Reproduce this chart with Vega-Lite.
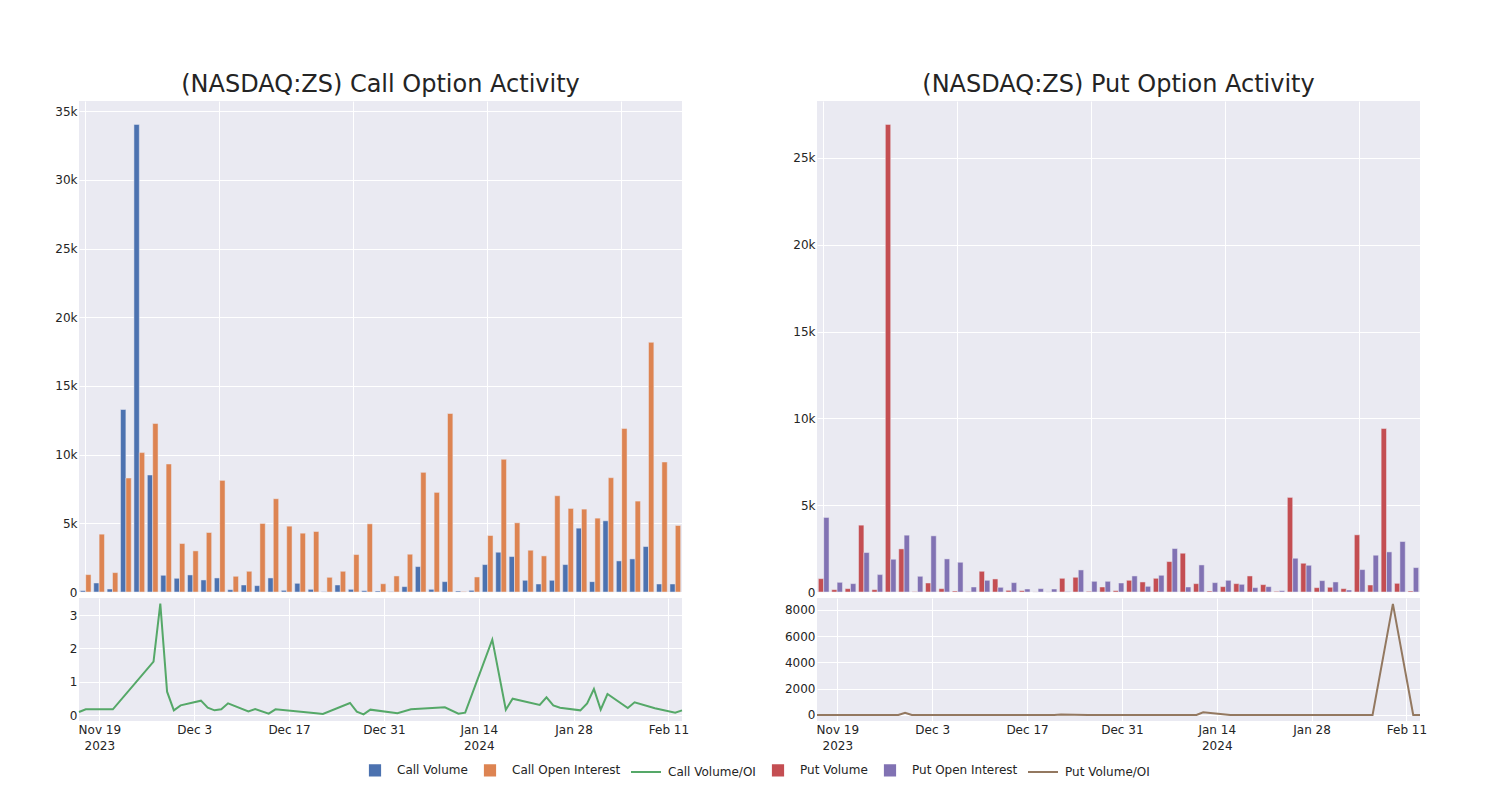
{
  "$schema": "https://vega.github.io/schema/vega-lite/v6.json",
  "background": "white",
  "padding": {"left": 54, "top": 73, "right": 20, "bottom": 10},
  "spacing": 95,
  "datasets": {
    "bars": [
      {"date": "2023-11-16", "Call Volume": 100, "Call Open Interest": 1265, "Put Volume": 770, "Put Open Interest": 4293},
      {"date": "2023-11-17", "Call Volume": 657, "Call Open Interest": 4210, "Put Volume": 135, "Put Open Interest": 558},
      {"date": "2023-11-21", "Call Volume": 219, "Call Open Interest": 1411, "Put Volume": 193, "Put Open Interest": 481},
      {"date": "2023-11-27", "Call Volume": 13284, "Call Open Interest": 8297, "Put Volume": 3850, "Put Open Interest": 2272},
      {"date": "2023-11-28", "Call Volume": 34039, "Call Open Interest": 10146, "Put Volume": 135, "Put Open Interest": 1001},
      {"date": "2023-11-29", "Call Volume": 8516, "Call Open Interest": 12263, "Put Volume": 26931, "Put Open Interest": 1887},
      {"date": "2023-11-30", "Call Volume": 1217, "Call Open Interest": 9319, "Put Volume": 2483, "Put Open Interest": 3273},
      {"date": "2023-12-01", "Call Volume": 998, "Call Open Interest": 3528, "Put Volume": 20, "Put Open Interest": 905},
      {"date": "2023-12-04", "Call Volume": 1241, "Call Open Interest": 2993, "Put Volume": 520, "Put Open Interest": 3234},
      {"date": "2023-12-05", "Call Volume": 876, "Call Open Interest": 4331, "Put Volume": 193, "Put Open Interest": 1906},
      {"date": "2023-12-06", "Call Volume": 1022, "Call Open Interest": 8126, "Put Volume": 58, "Put Open Interest": 1713},
      {"date": "2023-12-07", "Call Volume": 170, "Call Open Interest": 1144, "Put Volume": 20, "Put Open Interest": 289},
      {"date": "2023-12-08", "Call Volume": 511, "Call Open Interest": 1509, "Put Volume": 1194, "Put Open Interest": 674},
      {"date": "2023-12-11", "Call Volume": 462, "Call Open Interest": 4988, "Put Volume": 751, "Put Open Interest": 270},
      {"date": "2023-12-12", "Call Volume": 1022, "Call Open Interest": 6788, "Put Volume": 96, "Put Open Interest": 539},
      {"date": "2023-12-14", "Call Volume": 122, "Call Open Interest": 4793, "Put Volume": 77, "Put Open Interest": 173},
      {"date": "2023-12-15", "Call Volume": 633, "Call Open Interest": 4282, "Put Volume": 5, "Put Open Interest": 193},
      {"date": "2023-12-21", "Call Volume": 195, "Call Open Interest": 4404, "Put Volume": 5, "Put Open Interest": 173},
      {"date": "2023-12-22", "Call Volume": 20, "Call Open Interest": 1070, "Put Volume": 789, "Put Open Interest": 20},
      {"date": "2023-12-26", "Call Volume": 511, "Call Open Interest": 1509, "Put Volume": 847, "Put Open Interest": 1270},
      {"date": "2023-12-27", "Call Volume": 195, "Call Open Interest": 2725, "Put Volume": 38, "Put Open Interest": 616},
      {"date": "2023-12-28", "Call Volume": 97, "Call Open Interest": 4963, "Put Volume": 289, "Put Open Interest": 616},
      {"date": "2023-12-29", "Call Volume": 73, "Call Open Interest": 600, "Put Volume": 77, "Put Open Interest": 520},
      {"date": "2024-01-02", "Call Volume": 20, "Call Open Interest": 1168, "Put Volume": 674, "Put Open Interest": 924},
      {"date": "2024-01-04", "Call Volume": 389, "Call Open Interest": 2750, "Put Volume": 578, "Put Open Interest": 327},
      {"date": "2024-01-09", "Call Volume": 1849, "Call Open Interest": 8711, "Put Volume": 789, "Put Open Interest": 963},
      {"date": "2024-01-11", "Call Volume": 195, "Call Open Interest": 7251, "Put Volume": 1752, "Put Open Interest": 2503},
      {"date": "2024-01-12", "Call Volume": 754, "Call Open Interest": 12993, "Put Volume": 2233, "Put Open Interest": 289},
      {"date": "2024-01-16", "Call Volume": 73, "Call Open Interest": 32, "Put Volume": 481, "Put Open Interest": 1559},
      {"date": "2024-01-18", "Call Volume": 122, "Call Open Interest": 1095, "Put Volume": 58, "Put Open Interest": 539},
      {"date": "2024-01-19", "Call Volume": 1995, "Call Open Interest": 4112, "Put Volume": 308, "Put Open Interest": 674},
      {"date": "2024-01-23", "Call Volume": 2895, "Call Open Interest": 9659, "Put Volume": 481, "Put Open Interest": 443},
      {"date": "2024-01-24", "Call Volume": 2579, "Call Open Interest": 5036, "Put Volume": 924, "Put Open Interest": 250},
      {"date": "2024-01-25", "Call Volume": 852, "Call Open Interest": 3041, "Put Volume": 424, "Put Open Interest": 308},
      {"date": "2024-01-26", "Call Volume": 584, "Call Open Interest": 2628, "Put Volume": 38, "Put Open Interest": 77},
      {"date": "2024-01-29", "Call Volume": 852, "Call Open Interest": 7007, "Put Volume": 5448, "Put Open Interest": 1944},
      {"date": "2024-01-30", "Call Volume": 1995, "Call Open Interest": 6083, "Put Volume": 1656, "Put Open Interest": 1540},
      {"date": "2024-01-31", "Call Volume": 4647, "Call Open Interest": 6034, "Put Volume": 250, "Put Open Interest": 655},
      {"date": "2024-02-01", "Call Volume": 754, "Call Open Interest": 5377, "Put Volume": 270, "Put Open Interest": 578},
      {"date": "2024-02-02", "Call Volume": 5182, "Call Open Interest": 8321, "Put Volume": 193, "Put Open Interest": 116},
      {"date": "2024-02-05", "Call Volume": 2263, "Call Open Interest": 11898, "Put Volume": 3292, "Put Open Interest": 1290},
      {"date": "2024-02-06", "Call Volume": 2409, "Call Open Interest": 6618, "Put Volume": 404, "Put Open Interest": 2118},
      {"date": "2024-02-09", "Call Volume": 3309, "Call Open Interest": 18175, "Put Volume": 9413, "Put Open Interest": 2310},
      {"date": "2024-02-12", "Call Volume": 584, "Call Open Interest": 9465, "Put Volume": 500, "Put Open Interest": 2907},
      {"date": "2024-02-13", "Call Volume": 584, "Call Open Interest": 4842, "Put Volume": 58, "Put Open Interest": 1405}
    ],
    "lines": [
      {"date": "2023-11-16T00:00:00", "call_ratio": 0.09, "put_ratio": 0.18},
      {"date": "2023-11-17T00:00:00", "call_ratio": 0.17, "put_ratio": 0.24},
      {"date": "2023-11-21T00:00:00", "call_ratio": 0.17, "put_ratio": 0.4},
      {"date": "2023-11-27T00:00:00", "call_ratio": 1.6, "put_ratio": 1.7},
      {"date": "2023-11-28T00:00:00", "call_ratio": 3.34, "put_ratio": 0.13},
      {"date": "2023-11-29T00:00:00", "call_ratio": 0.7, "put_ratio": 170},
      {"date": "2023-11-30T00:00:00", "call_ratio": 0.14, "put_ratio": 0.76},
      {"date": "2023-12-01T00:00:00", "call_ratio": 0.29, "put_ratio": 0.02},
      {"date": "2023-12-04T00:00:00", "call_ratio": 0.43, "put_ratio": 0.16},
      {"date": "2023-12-05T00:00:00", "call_ratio": 0.22, "put_ratio": 0.1},
      {"date": "2023-12-06T00:00:00", "call_ratio": 0.14, "put_ratio": 0.03},
      {"date": "2023-12-07T00:00:00", "call_ratio": 0.17, "put_ratio": 0.07},
      {"date": "2023-12-08T00:00:00", "call_ratio": 0.35, "put_ratio": 1.77},
      {"date": "2023-12-11T00:00:00", "call_ratio": 0.11, "put_ratio": 2.78},
      {"date": "2023-12-12T00:00:00", "call_ratio": 0.18, "put_ratio": 0.18},
      {"date": "2023-12-14T00:00:00", "call_ratio": 0.04, "put_ratio": 0.45},
      {"date": "2023-12-15T00:00:00", "call_ratio": 0.17, "put_ratio": 0.03},
      {"date": "2023-12-21T00:00:00", "call_ratio": 0.05, "put_ratio": 0.03},
      {"date": "2023-12-22T00:00:00", "call_ratio": 0.03, "put_ratio": 39},
      {"date": "2023-12-26T00:00:00", "call_ratio": 0.36, "put_ratio": 0.67},
      {"date": "2023-12-27T00:00:00", "call_ratio": 0.1, "put_ratio": 0.06},
      {"date": "2023-12-28T00:00:00", "call_ratio": 0.02, "put_ratio": 0.47},
      {"date": "2023-12-29T00:00:00", "call_ratio": 0.16, "put_ratio": 0.15},
      {"date": "2024-01-02T00:00:00", "call_ratio": 0.05, "put_ratio": 0.73},
      {"date": "2024-01-04T00:00:00", "call_ratio": 0.17, "put_ratio": 1.77},
      {"date": "2024-01-09T00:00:00", "call_ratio": 0.23, "put_ratio": 0.82},
      {"date": "2024-01-11T00:00:00", "call_ratio": 0.04, "put_ratio": 0.7},
      {"date": "2024-01-12T00:00:00", "call_ratio": 0.07, "put_ratio": 200},
      {"date": "2024-01-16T00:00:00", "call_ratio": 2.26, "put_ratio": 0.31},
      {"date": "2024-01-18T00:00:00", "call_ratio": 0.16, "put_ratio": 0.11},
      {"date": "2024-01-19T00:00:00", "call_ratio": 0.49, "put_ratio": 0.46},
      {"date": "2024-01-23T00:00:00", "call_ratio": 0.3, "put_ratio": 1.09},
      {"date": "2024-01-24T00:00:00", "call_ratio": 0.53, "put_ratio": 3.7},
      {"date": "2024-01-25T00:00:00", "call_ratio": 0.29, "put_ratio": 1.38},
      {"date": "2024-01-26T00:00:00", "call_ratio": 0.22, "put_ratio": 0.49},
      {"date": "2024-01-29T00:00:00", "call_ratio": 0.14, "put_ratio": 2.8},
      {"date": "2024-01-30T00:00:00", "call_ratio": 0.35, "put_ratio": 1.08},
      {"date": "2024-01-31T00:00:00", "call_ratio": 0.78, "put_ratio": 0.38},
      {"date": "2024-02-01T00:00:00", "call_ratio": 0.16, "put_ratio": 0.47},
      {"date": "2024-02-02T00:00:00", "call_ratio": 0.63, "put_ratio": 1.66},
      {"date": "2024-02-05T00:00:00", "call_ratio": 0.21, "put_ratio": 2.55},
      {"date": "2024-02-06T00:00:00", "call_ratio": 0.38, "put_ratio": 0.19},
      {"date": "2024-02-09T00:00:00", "call_ratio": 0.2, "put_ratio": 8450},
      {"date": "2024-02-12T00:00:00", "call_ratio": 0.07, "put_ratio": 0.17},
      {"date": "2024-02-13T00:00:00", "call_ratio": 0.14, "put_ratio": 0.04}
    ]
  },
  "hconcat": [
    {
      "bounds": "flush",
      "spacing": 6,
      "vconcat": [
        {
          "width": 603,
          "height": 491,
          "title": {"text": "(NASDAQ:ZS) Call Option Activity", "anchor": "middle", "frame": "group", "baseline": "alphabetic", "offset": -15},
          "data": {"name": "bars"},
          "transform": [{"fold": ["Call Volume", "Call Open Interest"], "as": ["series", "value"]}],
          "mark": {"type": "bar", "stroke": "#EAEAF2", "strokeWidth": 0.5},
          "encoding": {
            "x": {"field": "date", "type": "ordinal", "scale": {"paddingInner": 0.2, "paddingOuter": 0.1},
                  "axis": {"labels": false, "ticks": false, "domain": false, "grid": true, "bandPosition": 0.5, "title": null,
                           "values": ["2023-11-16", "2023-12-06", "2023-12-27", "2024-01-19", "2024-02-05"]}},
            "xOffset": {"field": "series", "type": "nominal", "sort": ["Call Volume", "Call Open Interest"], "scale": {"paddingInner": 0, "paddingOuter": 0}},
            "y": {"field": "value", "type": "quantitative", "scale": {"domain": [0, 35741], "nice": false},
                  "axis": {"values": [0, 5000, 10000, 15000, 20000, 25000, 30000, 35000], "labelExpr": "datum.value == 0 ? '0' : (datum.value / 1000) + 'k'", "title": null, "labelPadding": 2}},
            "color": {
              "field": "series", "type": "nominal",
              "scale": {"domain": ["Call Volume", "Call Open Interest", "Call Volume/OI", "Put Volume", "Put Open Interest", "Put Volume/OI"],
                        "range": ["#4C72B0", "#DD8452", "#55A868", "#C44E52", "#8172B3", "#937860"]},
              "legend": {
                "orient": "none", "legendX": 280, "legendY": 653, "direction": "horizontal", "title": null,
                "symbolType": "square", "symbolSize": 900, "symbolStrokeWidth": 2, "labelOffset": 6, "columnPadding": 6,
                "labelFont": "DejaVu Sans", "labelFontSize": 12, "labelColor": "#242424",
                "encode": {"symbols": {"update": {
                  "shape": {"signal": "indexof(datum.value, '/OI') >= 0 ? 'M-1,0H1' : 'M-0.34,-0.34H0.34V0.34H-0.34Z'"},
                  "fill": {"signal": "indexof(datum.value, '/OI') >= 0 ? 'transparent' : scale('color', datum.value)"},
                  "stroke": {"signal": "scale('color', datum.value)"}
                }}}
              }
            }
          }
        },
        {
          "width": 603,
          "height": 123,
          "data": {"name": "lines"},
          "mark": {"type": "line", "strokeWidth": 2},
          "encoding": {
            "x": {"field": "date", "type": "temporal",
                  "scale": {"domain": [{"year": 2023, "month": 11, "date": 16}, {"year": 2024, "month": 2, "date": 13}], "nice": false},
                  "axis": {"title": null, "grid": true, "labelFlush": false, "labelPadding": 3, "labelLineHeight": 16,
                           "values": [{"year": 2023, "month": 11, "date": 19}, {"year": 2023, "month": 12, "date": 3}, {"year": 2023, "month": 12, "date": 17}, {"year": 2023, "month": 12, "date": 31}, {"year": 2024, "month": 1, "date": 14}, {"year": 2024, "month": 1, "date": 28}, {"year": 2024, "month": 2, "date": 11}],
                           "labelExpr": "[timeFormat(datum.value, '%b') + ' ' + date(datum.value), (month(datum.value) == 10 && date(datum.value) == 19) ? '2023' : ((month(datum.value) == 0 && date(datum.value) == 14) ? '2024' : '')]"}},
            "y": {"field": "call_ratio", "type": "quantitative", "scale": {"domain": [-0.18, 3.51], "nice": false, "zero": false},
                  "axis": {"values": [0, 1, 2, 3], "format": "d", "title": null, "labelPadding": 2}},
            "color": {
              "datum": "Call Volume/OI", "type": "nominal",
              "legend": {
                "orient": "none", "legendX": 280, "legendY": 653, "direction": "horizontal", "title": null,
                "symbolType": "square", "symbolSize": 900, "symbolStrokeWidth": 2, "labelOffset": 6, "columnPadding": 6,
                "labelFont": "DejaVu Sans", "labelFontSize": 12, "labelColor": "#242424",
                "encode": {"symbols": {"update": {
                  "shape": {"signal": "indexof(datum.value, '/OI') >= 0 ? 'M-1,0H1' : 'M-0.34,-0.34H0.34V0.34H-0.34Z'"},
                  "fill": {"signal": "indexof(datum.value, '/OI') >= 0 ? 'transparent' : scale('color', datum.value)"},
                  "stroke": {"signal": "scale('color', datum.value)"}
                }}}
              }
            }
          }
        }
      ]
    },
    {
      "bounds": "flush",
      "spacing": 6,
      "vconcat": [
        {
          "width": 603,
          "height": 491,
          "title": {"text": "(NASDAQ:ZS) Put Option Activity", "anchor": "middle", "frame": "group", "baseline": "alphabetic", "offset": -15},
          "data": {"name": "bars"},
          "transform": [{"fold": ["Put Volume", "Put Open Interest"], "as": ["series", "value"]}],
          "mark": {"type": "bar", "stroke": "#EAEAF2", "strokeWidth": 0.5},
          "encoding": {
            "x": {"field": "date", "type": "ordinal", "scale": {"paddingInner": 0.2, "paddingOuter": 0.1},
                  "axis": {"labels": false, "ticks": false, "domain": false, "grid": true, "bandPosition": 0.5, "title": null,
                           "values": ["2023-11-16", "2023-12-06", "2023-12-27", "2024-01-19", "2024-02-05"]}},
            "xOffset": {"field": "series", "type": "nominal", "sort": ["Put Volume", "Put Open Interest"], "scale": {"paddingInner": 0, "paddingOuter": 0}},
            "y": {"field": "value", "type": "quantitative", "scale": {"domain": [0, 28278], "nice": false},
                  "axis": {"values": [0, 5000, 10000, 15000, 20000, 25000], "labelExpr": "datum.value == 0 ? '0' : (datum.value / 1000) + 'k'", "title": null, "labelPadding": 2}},
            "color": {
              "field": "series", "type": "nominal",
              "legend": {
                "orient": "none", "legendX": 280, "legendY": 653, "direction": "horizontal", "title": null,
                "symbolType": "square", "symbolSize": 900, "symbolStrokeWidth": 2, "labelOffset": 6, "columnPadding": 6,
                "labelFont": "DejaVu Sans", "labelFontSize": 12, "labelColor": "#242424",
                "encode": {"symbols": {"update": {
                  "shape": {"signal": "indexof(datum.value, '/OI') >= 0 ? 'M-1,0H1' : 'M-0.34,-0.34H0.34V0.34H-0.34Z'"},
                  "fill": {"signal": "indexof(datum.value, '/OI') >= 0 ? 'transparent' : scale('color', datum.value)"},
                  "stroke": {"signal": "scale('color', datum.value)"}
                }}}
              }
            }
          }
        },
        {
          "width": 603,
          "height": 123,
          "data": {"name": "lines"},
          "mark": {"type": "line", "strokeWidth": 2},
          "encoding": {
            "x": {"field": "date", "type": "temporal",
                  "scale": {"domain": [{"year": 2023, "month": 11, "date": 16}, {"year": 2024, "month": 2, "date": 13}], "nice": false},
                  "axis": {"title": null, "grid": true, "labelFlush": false, "labelPadding": 3, "labelLineHeight": 16,
                           "values": [{"year": 2023, "month": 11, "date": 19}, {"year": 2023, "month": 12, "date": 3}, {"year": 2023, "month": 12, "date": 17}, {"year": 2023, "month": 12, "date": 31}, {"year": 2024, "month": 1, "date": 14}, {"year": 2024, "month": 1, "date": 28}, {"year": 2024, "month": 2, "date": 11}],
                           "labelExpr": "[timeFormat(datum.value, '%b') + ' ' + date(datum.value), (month(datum.value) == 10 && date(datum.value) == 19) ? '2023' : ((month(datum.value) == 0 && date(datum.value) == 14) ? '2024' : '')]"}},
            "y": {"field": "put_ratio", "type": "quantitative", "scale": {"domain": [-460, 8900], "nice": false, "zero": false},
                  "axis": {"values": [0, 2000, 4000, 6000, 8000], "format": "d", "title": null, "labelPadding": 2}},
            "color": {
              "datum": "Put Volume/OI", "type": "nominal",
              "legend": {
                "orient": "none", "legendX": 280, "legendY": 653, "direction": "horizontal", "title": null,
                "symbolType": "square", "symbolSize": 900, "symbolStrokeWidth": 2, "labelOffset": 6, "columnPadding": 6,
                "labelFont": "DejaVu Sans", "labelFontSize": 12, "labelColor": "#242424",
                "encode": {"symbols": {"update": {
                  "shape": {"signal": "indexof(datum.value, '/OI') >= 0 ? 'M-1,0H1' : 'M-0.34,-0.34H0.34V0.34H-0.34Z'"},
                  "fill": {"signal": "indexof(datum.value, '/OI') >= 0 ? 'transparent' : scale('color', datum.value)"},
                  "stroke": {"signal": "scale('color', datum.value)"}
                }}}
              }
            }
          }
        }
      ]
    }
  ],
  "resolve": {"scale": {"color": "shared", "xOffset": "independent"}},
  "config": {
    "font": "DejaVu Sans",
    "view": {"fill": "#EAEAF2", "stroke": null},
    "axis": {"gridColor": "#FFFFFF", "gridWidth": 1, "gridOpacity": 1, "domain": false, "ticks": false,
             "labelFont": "DejaVu Sans", "labelFontSize": 12, "labelColor": "#242424"},
    "title": {"font": "DejaVu Sans", "fontSize": 24, "fontWeight": "normal", "color": "#242424"},
    "legend": {"labelFont": "DejaVu Sans", "labelFontSize": 12, "labelColor": "#242424"}
  }
}
